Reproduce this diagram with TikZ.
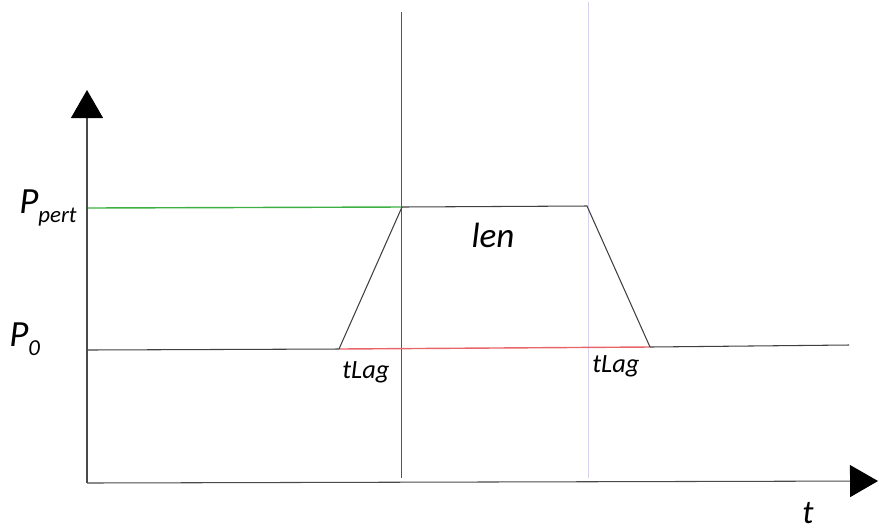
\documentclass[tikz,border=0pt]{standalone}
\usepackage{fontspec}
\setmainfont{Carlito}
\usepackage{tikz}
\usetikzlibrary{arrows.meta,positioning,calc}
\definecolor{axisink}{HTML}{4A4A4A}
\definecolor{pertgreen}{HTML}{3CB043}
\definecolor{lagred}{HTML}{E8666A}
\definecolor{markblue}{HTML}{50507A}
\definecolor{marklav}{HTML}{D4D4F0}
\newcommand{\lowtxt}[1]{\raisebox{-0.55ex}{\fontsize{13}{13}\selectfont #1}}

\begin{document}
\begin{tikzpicture}[x=0.02cm,y=-0.02cm,
  axis/.style={draw=axisink,line width=0.6pt,
    -{Triangle[length=0.56cm,width=0.64cm,color=black]}},
  level/.style={line width=0.6pt,draw=black!75},
  lbl/.style={font=\fontsize{21}{21}\selectfont\itshape,inner sep=0pt},
  small/.style={font=\fontsize{15}{15}\selectfont\itshape,inner sep=0pt}
]
  \useasboundingbox (0,0) rectangle (879,529);
  % axes
  \coordinate (o) at (87,483);
  \coordinate (ytip) at (87,90);
  \coordinate (xtip) at (878,481);
  \draw[axis] (o) -- (ytip);
  \draw[axis] (o) -- (xtip);

  % markers
  \coordinate (m1top) at (401,12);
  \coordinate (m1bot) at (401,478);
  \coordinate (m2top) at (588,2);
  \coordinate (m2bot) at (588,478);
  \draw[markblue,line width=0.5pt] (m1top) -- (m1bot);
  \draw[marklav,line width=0.5pt] (m2top) -- (m2bot);

  % pulse
  \coordinate (p0a) at (88,350);
  \coordinate (up0) at (339,349);
  \coordinate (up1) at (402,207);
  \coordinate (dn0) at (587,206);
  \coordinate (dn1) at (650,347);
  \coordinate (p0b) at (849,345);
  \coordinate (ppa) at (88,208);
  \draw[pertgreen,line width=0.8pt] (ppa) -- (up1);
  \draw[level] (p0a) -- (up0);
  \draw[lagred,line width=0.8pt] (up0) -- (dn1);
  \draw[level] (dn1) -- (p0b);
  \draw[level] (up0) -- (up1) -- (dn0) -- (dn1);

  % labels
  \node[lbl,anchor=base west] (lpert) at (19,213) {P\lowtxt{pert}};
  \node[lbl,anchor=base west] (lzero) at (9,346) {P\lowtxt{0}};
  \node[small,font=\fontsize{20}{20}\selectfont\itshape,anchor=base]
    (llen) at (493,247) {len};
  \node[small,anchor=base west] (llag1) at (342,378) {tLag};
  \node[small,anchor=base west] (llag2) at (592,372) {tLag};
  \node[lbl,font=\fontsize{19}{19}\selectfont\itshape,anchor=base west]
    (lt) at (802,523) {t};
\end{tikzpicture}
\end{document}
